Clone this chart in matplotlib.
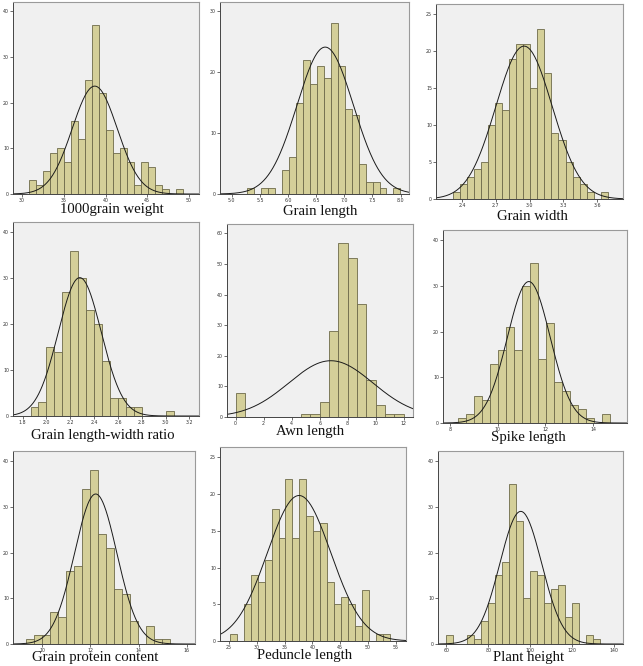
import numpy as np
import matplotlib
matplotlib.use("Agg")
import matplotlib.pyplot as plt

W, H = 643, 666

# titles of the nine traits
titles = ["1000grain weight", "Grain length", "Grain width",
          "Grain length-width ratio", "Awn length", "Spike length",
          "Grain protein content", "Peduncle length", "Plant height"]

# histogram counts, first bin edge and bin width
tgw_counts = [3, 2, 5, 9, 10, 7, 16, 12, 25, 37, 22, 14, 9, 10, 7, 2, 7, 6, 2, 1, 0, 1]
gl_counts = [1, 0, 1, 1, 0, 4, 6, 15, 22, 18, 21, 19, 28, 21, 14, 13, 5, 2, 2, 1, 0, 1]
gw_counts = [1, 2, 3, 4, 5, 10, 13, 12, 19, 21, 21, 15, 23, 17, 9, 8, 5, 3, 2, 1, 0, 1]
glw_counts = [2, 3, 15, 14, 27, 36, 30, 23, 20, 12, 4, 4, 2, 2, 0, 0, 0, 1]
awn_counts = [8, 0, 0, 0, 0, 0, 0, 1, 1, 5, 28, 57, 52, 37, 12, 4, 1, 1]
spike_counts = [1, 2, 6, 5, 13, 16, 21, 16, 30, 35, 14, 22, 9, 7, 4, 3, 1, 0, 2]
gpc_counts = [1, 2, 2, 7, 6, 16, 17, 34, 38, 24, 21, 12, 11, 5, 0, 4, 1, 1]
ped_counts = [1, 0, 5, 9, 8, 11, 18, 14, 22, 14, 22, 17, 15, 16, 8, 5, 6, 5, 2, 7, 0, 1, 1]
ph_counts = [2, 0, 0, 2, 1, 5, 9, 15, 18, 35, 27, 10, 16, 15, 9, 12, 13, 6, 9, 0, 2, 1]

all_counts = [tgw_counts, gl_counts, gw_counts, glw_counts, awn_counts,
              spike_counts, gpc_counts, ped_counts, ph_counts]
bin_start = [30.8, 5.27, 2.32, 1.867, 0.0, 8.34, 9.333, 25.18, 60.0]
bin_width = [0.84, 0.124, 0.0624, 0.0667, 0.667, 0.336, 0.333, 1.247, 3.34]

# fitted normal curves: mean, sd, peak height
curve_mean = [38.7, 6.66, 2.95, 2.28, 6.8, 11.3, 12.22, 37.6, 95.5]
curve_sd = [2.7, 0.5, 0.25, 0.18, 3.0, 0.9, 0.88, 5.7, 10.0]
curve_peak = [23.6, 24.1, 20.7, 30.1, 18.4, 31.0, 32.8, 19.8, 29.0]

# axis ranges and ticks
xlims = [(28.9, 51.2), (4.79, 8.15), (2.168, 3.829), (1.72, 3.28), (-0.62, 12.67),
         (7.69, 15.43), (8.78, 16.35), (23.4, 56.8), (56.0, 144.3)]
ylims = [42, 31.5, 26.4, 42.2, 63.1, 42.3, 42.2, 26.4, 42.2]
xticks = [[30, 35, 40, 45, 50], [5.0, 5.5, 6.0, 6.5, 7.0, 7.5, 8.0],
          [2.4, 2.7, 3.0, 3.3, 3.6], [1.8, 2.0, 2.2, 2.4, 2.6, 2.8, 3.0, 3.2],
          [0, 2, 4, 6, 8, 10, 12], [8, 10, 12, 14], [10, 12, 14, 16],
          [25, 30, 35, 40, 45, 50, 55], [60, 80, 100, 120, 140]]
xfmt = ["%d", "%.1f", "%.1f", "%.1f", "%d", "%d", "%d", "%d", "%d"]
ystep = [10, 10, 5, 10, 10, 10, 10, 5, 10]

# panel boxes in pixels (x0, y0, x1, y1), top-left origin
boxes = [(13, 2, 199, 194), (220, 2, 409, 194), (436, 4, 623, 199),
         (13, 222, 199, 416), (227, 224, 413, 417), (443, 230, 627, 423),
         (13, 451, 195, 644), (220, 447, 406, 641), (438, 451, 623, 644)]
title_pos = [(112, 209), (320, 211), (532, 217), (103, 436), (310, 432),
             (528, 438), (95, 658), (305, 655), (529, 658)]

bar_face = "#D4CF99"
bar_edge = "#6E6A4A"

fig = plt.figure(figsize=(W / 100, H / 100), dpi=100)
fig.patch.set_facecolor("white")

for i in range(9):
    x0, y0, x1, y1 = boxes[i]
    ax = fig.add_axes([x0 / W, 1 - y1 / H, (x1 - x0) / W, (y1 - y0) / H])
    ax.set_facecolor("#F0F0F0")

    counts = np.array(all_counts[i])
    lefts = bin_start[i] + bin_width[i] * np.arange(len(counts))
    ax.bar(lefts, counts, width=bin_width[i], align="edge",
           color=bar_face, edgecolor=bar_edge, linewidth=0.6)

    xs = np.linspace(xlims[i][0], xlims[i][1], 400)
    ys = curve_peak[i] * np.exp(-0.5 * ((xs - curve_mean[i]) / curve_sd[i]) ** 2)
    ax.plot(xs, ys, color="#1a1a1a", linewidth=0.7)

    ax.set_xlim(*xlims[i])
    ax.set_ylim(0, ylims[i])
    ax.set_xticks(xticks[i])
    ax.set_xticklabels([xfmt[i] % v for v in xticks[i]])
    ax.set_yticks(np.arange(0, ylims[i], ystep[i]))
    ax.tick_params(labelsize=3.4, length=2, width=0.5, pad=0.8, colors="#333333")

    for side in ["top", "right"]:
        ax.spines[side].set_color("#9A9A9A")
        ax.spines[side].set_linewidth(0.8)
    for side in ["left", "bottom"]:
        ax.spines[side].set_color("#444444")
        ax.spines[side].set_linewidth(0.7)

    tx, ty = title_pos[i]
    fig.text(tx / W, 1 - ty / H, titles[i], ha="center", va="center",
             fontsize=10.6, family="Liberation Serif", color="#111111")

fig.savefig("out.png", dpi=100)
